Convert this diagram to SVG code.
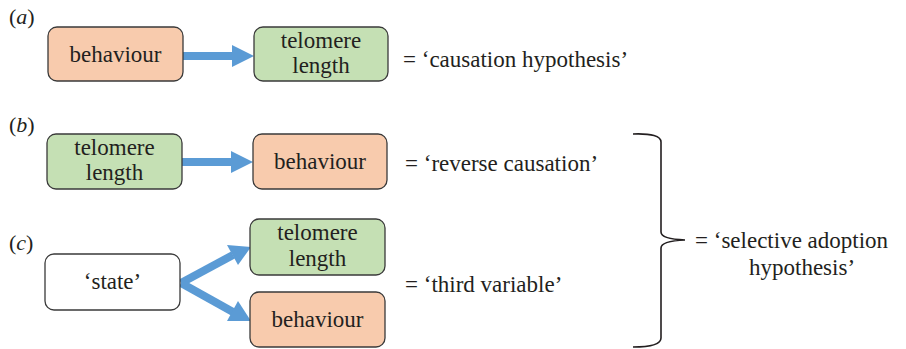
<svg xmlns="http://www.w3.org/2000/svg" width="906" height="349" viewBox="0 0 906 349">
<rect width="906" height="349" fill="#ffffff"/>
<g id="labels">
<text x="9" y="24" font-family="Liberation Serif" font-size="22" fill="#231f20">(<tspan font-style="italic">a</tspan>)</text>
<text x="9" y="132" font-family="Liberation Serif" font-size="22" fill="#231f20">(<tspan font-style="italic">b</tspan>)</text>
<text x="9" y="250" font-family="Liberation Serif" font-size="22" fill="#231f20">(<tspan font-style="italic">c</tspan>)</text>
</g>
<g id="connectors" fill="#5b9bd5">
<polygon points="183,52 232,52 232,45 254,56 232,67 232,60 183,60"/>
<polygon points="182,158 231,158 231,151 253,162 231,173 231,166 182,166"/>
<path d="M181,283 L233,255" stroke="#5b9bd5" stroke-width="8" fill="none"/>
<polygon points="251,247 238,265 227,245"/>
<path d="M181,283 L233,312" stroke="#5b9bd5" stroke-width="8" fill="none"/>
<polygon points="251,321 227,321 238,301"/>
</g>
<g id="a-behaviour"><rect x="48" y="27" width="135" height="54" rx="9" fill="#f8cbad" stroke="#3a3a3a" stroke-width="1.3"/><text x="115.5" y="62" text-anchor="middle" font-family="Liberation Serif" font-size="23" fill="#231f20">behaviour</text></g>
<g id="a-telomere"><rect x="254" y="27" width="134" height="54" rx="9" fill="#c5e0b4" stroke="#3a3a3a" stroke-width="1.3"/><text x="321" y="48" text-anchor="middle" font-family="Liberation Serif" font-size="23" fill="#231f20">telomere</text><text x="321" y="73" text-anchor="middle" font-family="Liberation Serif" font-size="23" fill="#231f20">length</text></g>
<g id="a-text"><text x="403" y="67" font-family="Liberation Serif" font-size="23" fill="#231f20">= &#8216;causation hypothesis&#8217;</text></g>
<g id="b-telomere"><rect x="47" y="134" width="135" height="55" rx="9" fill="#c5e0b4" stroke="#3a3a3a" stroke-width="1.3"/><text x="114.5" y="155" text-anchor="middle" font-family="Liberation Serif" font-size="23" fill="#231f20">telomere</text><text x="114.5" y="180" text-anchor="middle" font-family="Liberation Serif" font-size="23" fill="#231f20">length</text></g>
<g id="b-behaviour"><rect x="253" y="134" width="134" height="55" rx="9" fill="#f8cbad" stroke="#3a3a3a" stroke-width="1.3"/><text x="320" y="169" text-anchor="middle" font-family="Liberation Serif" font-size="23" fill="#231f20">behaviour</text></g>
<g id="b-text"><text x="405" y="171" font-family="Liberation Serif" font-size="23" fill="#231f20">= &#8216;reverse causation&#8217;</text></g>
<g id="c-state"><rect x="45" y="254" width="135" height="56" rx="9" fill="#ffffff" stroke="#3a3a3a" stroke-width="1.3"/><text x="112.5" y="289" text-anchor="middle" font-family="Liberation Serif" font-size="23" fill="#231f20">&#8216;state&#8217;</text></g>
<g id="c-telomere"><rect x="250" y="219" width="135" height="56" rx="9" fill="#c5e0b4" stroke="#3a3a3a" stroke-width="1.3"/><text x="317.5" y="240" text-anchor="middle" font-family="Liberation Serif" font-size="23" fill="#231f20">telomere</text><text x="317.5" y="266" text-anchor="middle" font-family="Liberation Serif" font-size="23" fill="#231f20">length</text></g>
<g id="c-behaviour"><rect x="250" y="292" width="135" height="55" rx="9" fill="#f8cbad" stroke="#3a3a3a" stroke-width="1.3"/><text x="317.5" y="327" text-anchor="middle" font-family="Liberation Serif" font-size="23" fill="#231f20">behaviour</text></g>
<g id="c-text"><text x="405" y="292" font-family="Liberation Serif" font-size="23" fill="#231f20">= &#8216;third variable&#8217;</text></g>
<g id="brace">
<path d="M633,134 Q661,133 661,142 L661,232 Q661,239 685,240 Q661,241 661,248 L661,338 Q661,347 633,347" fill="none" stroke="#231f20" stroke-width="1.6"/>
</g>
<g id="brace-text"><text x="695" y="248" font-family="Liberation Serif" font-size="23" fill="#231f20">= &#8216;selective adoption</text><text x="749" y="275" font-family="Liberation Serif" font-size="23" fill="#231f20">hypothesis&#8217;</text></g>
</svg>
